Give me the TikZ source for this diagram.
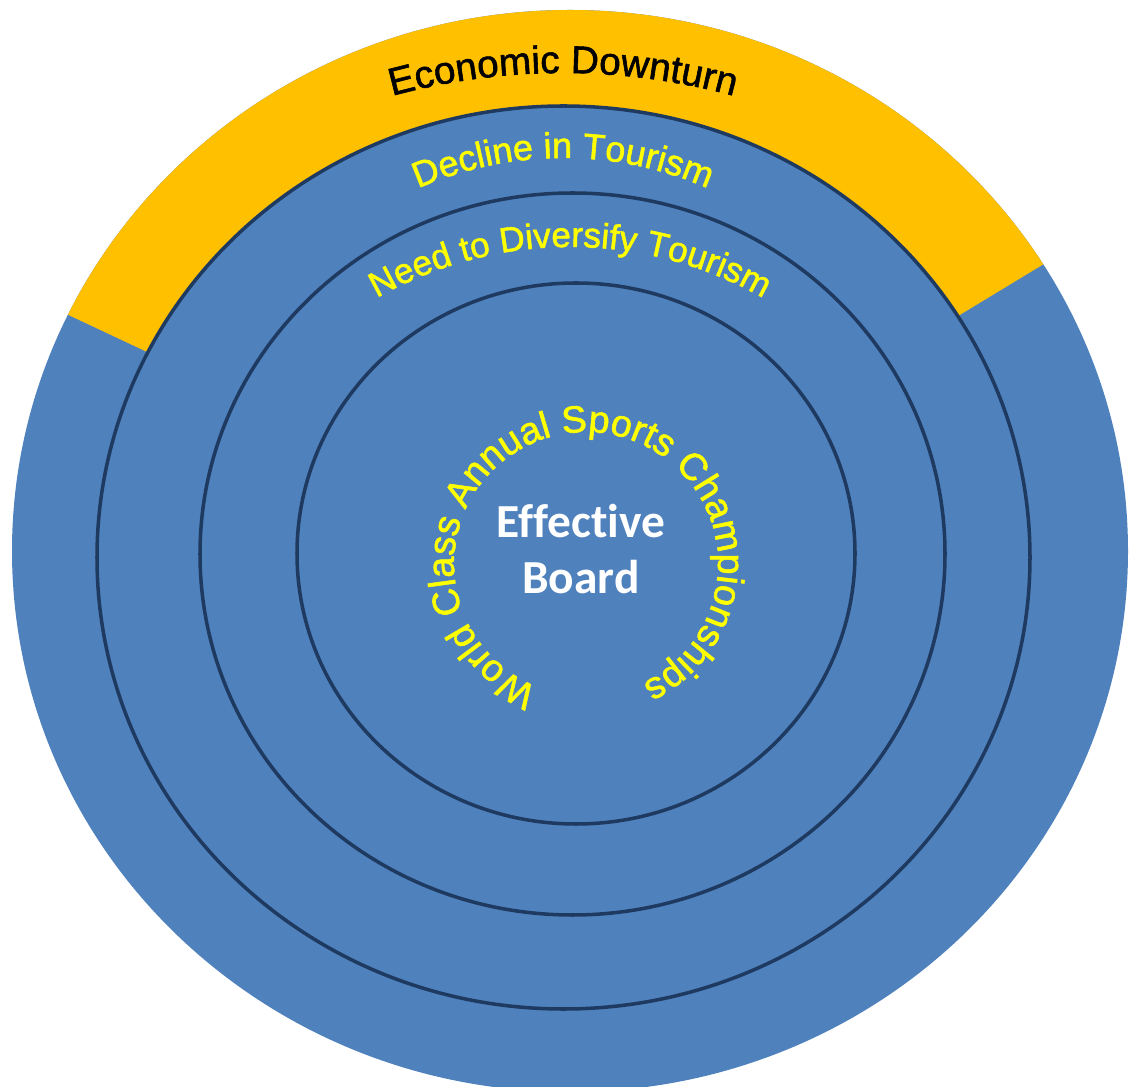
\documentclass[tikz,border=0pt]{standalone}
\usepackage{xcolor}
\usepackage{fontspec}
\setsansfont[FakeBold=1.5]{Liberation Sans}
\newfontfamily\boardfont[Ligatures=NoCommon]{Carlito}
\usepackage{tikz}
\usetikzlibrary{decorations.text}

\definecolor{ringblue}{HTML}{4F81BD}
\definecolor{ringline}{HTML}{1F3A60}
\definecolor{downturn}{HTML}{FFC000}
\definecolor{ringtext}{HTML}{FFFF00}

\begin{document}
\begin{tikzpicture}[x=0.02cm,y=0.02cm]
        \tikzstyle{ring}=[fill=ringblue, draw=ringline, line width=2pt];
        \tikzstyle{arc text}=[decorate, decoration={text along path, text align=center, text color=ringtext}];
        \useasboundingbox (0,0) rectangle (1133,1086);
        \clip (0,0) rectangle (1133,1086);

        % Define the centres of the rings
        \coordinate (O) at (570,535);
        \coordinate (R2) at (563.5,528.5);
        \coordinate (R3) at (572.5,532);
        \coordinate (R4) at (576,532.5);

        % Draw the outer ring
        \fill[ringblue] (O) ellipse [x radius=558, y radius=541];

        % Fill the top band of the outer ring
        \begin{scope}
            \clip (O) -- +(154.8:1000) -- +(120:1000) -- +(90:1000) -- +(60:1000) -- +(31.2:1000) -- cycle;
            \fill[downturn] (O) ellipse [x radius=558, y radius=541];
        \end{scope}

        % Draw the inner rings
        \draw[ring] (R2) ellipse [x radius=466.5, y radius=451.5];
        \draw[ring] (R3) ellipse [x radius=372.5, y radius=361];
        \draw[ring] (R4) ellipse [x radius=279, y radius=270.5];

        % Write the labels along the rings
        \coordinate (T1) at (563,365);
        \coordinate (T2) at (563,568);
        \coordinate (T3) at (570,449);
        \coordinate (T4) at (586,522);
        \path[arc text, decoration={text={|\sffamily\fontsize{22}{26}\selectfont|Economic Downturn}, text color=black}]
            (T1) ++(115:648) arc [start angle=115, end angle=65, radius=648];
        \path[arc text, decoration={text={|\sffamily\fontsize{20.5}{24}\selectfont|Decline in Tourism}}]
            (T2) ++(140:360) arc [start angle=140, end angle=40, radius=360];
        \path[arc text, decoration={text={|\sffamily\fontsize{20}{24}\selectfont|Need to Diversify Tourism}}]
            (T3) ++(150:390) arc [start angle=150, end angle=30, radius=390];
        \path[arc text, decoration={text={|\sffamily\fontsize{21.5}{24}\selectfont|World Class Annual Sports Championships}}]
            (T4) ++(250:132) arc [start angle=250, end angle=-66, radius=132];

        % Centre label
        \node[text=white, font=\boardfont\bfseries\fontsize{27}{32}\selectfont, align=center] (board) at (581,537) {Effective\\Board};
    \end{tikzpicture}
\end{document}
